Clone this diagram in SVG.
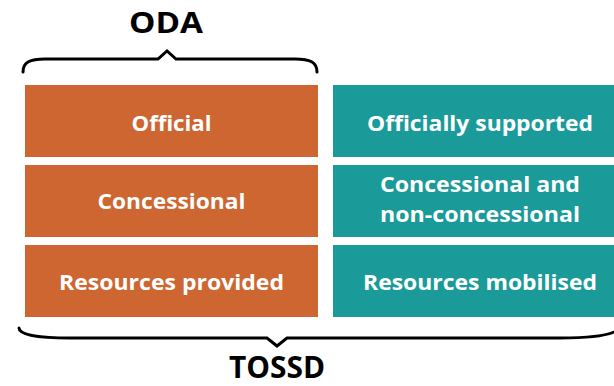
<svg xmlns="http://www.w3.org/2000/svg" width="614" height="386" viewBox="0 0 614 386">
  <style>
    .oda { fill: #CD6631; }
    .tossd { fill: #1B9A9A; }
    .lbl { font-family: "Open Sans", "Liberation Sans", sans-serif; font-weight: 700; font-size: 22px; fill: #FFFFFF; text-anchor: middle; }
    .title { font-family: "Open Sans", "Liberation Sans", sans-serif; font-weight: 700; fill: #000000; text-anchor: middle; }
    .brace { fill: none; stroke: #000000; stroke-width: 3; stroke-linejoin: miter; stroke-linecap: round; }
  </style>
  <rect width="614" height="386" fill="#FFFFFF"/>

  <!-- ODA brace and title -->
  <g id="oda-label">
    <text class="title" x="166" y="33" font-size="28" textLength="74" lengthAdjust="spacingAndGlyphs">ODA</text>
    <path class="brace" d="M23,72 C23,62 30,59 45,59 L158,59 L167,51 L176,59 L295,59 C310,59 317,62 317,72"/>
  </g>

  <!-- ODA column -->
  <g id="oda-official">
    <rect class="oda" x="25" y="85" width="293" height="72"/>
    <text class="lbl" x="171.5" y="131" textLength="80" lengthAdjust="spacingAndGlyphs">Official</text>
  </g>
  <g id="oda-concessional">
    <rect class="oda" x="25" y="165" width="293" height="72"/>
    <text class="lbl" x="171.5" y="209" textLength="148" lengthAdjust="spacingAndGlyphs">Concessional</text>
  </g>
  <g id="oda-resources">
    <rect class="oda" x="25" y="245" width="293" height="72"/>
    <text class="lbl" x="171.5" y="290" textLength="225" lengthAdjust="spacingAndGlyphs">Resources provided</text>
  </g>

  <!-- TOSSD column -->
  <g id="tossd-official">
    <rect class="tossd" x="333" y="85" width="295" height="72"/>
    <text class="lbl" x="480" y="131" textLength="226" lengthAdjust="spacingAndGlyphs">Officially supported</text>
  </g>
  <g id="tossd-concessional">
    <rect class="tossd" x="333" y="165" width="295" height="72"/>
    <text class="lbl" x="480" y="192" textLength="200" lengthAdjust="spacingAndGlyphs">Concessional and</text>
    <text class="lbl" x="480" y="222" textLength="200" lengthAdjust="spacingAndGlyphs">non-concessional</text>
  </g>
  <g id="tossd-resources">
    <rect class="tossd" x="333" y="245" width="295" height="72"/>
    <text class="lbl" x="480" y="290" textLength="234" lengthAdjust="spacingAndGlyphs">Resources mobilised</text>
  </g>

  <!-- TOSSD brace and title -->
  <g id="tossd-label">
    <path class="brace" d="M19,328 C19,335 40,338 70,338 L267,338 L277,346 L287,338 L560,338 C590,338 614,335 620,328"/>
    <text class="title" x="277" y="378" font-size="30" textLength="96" lengthAdjust="spacingAndGlyphs">TOSSD</text>
  </g>
</svg>
